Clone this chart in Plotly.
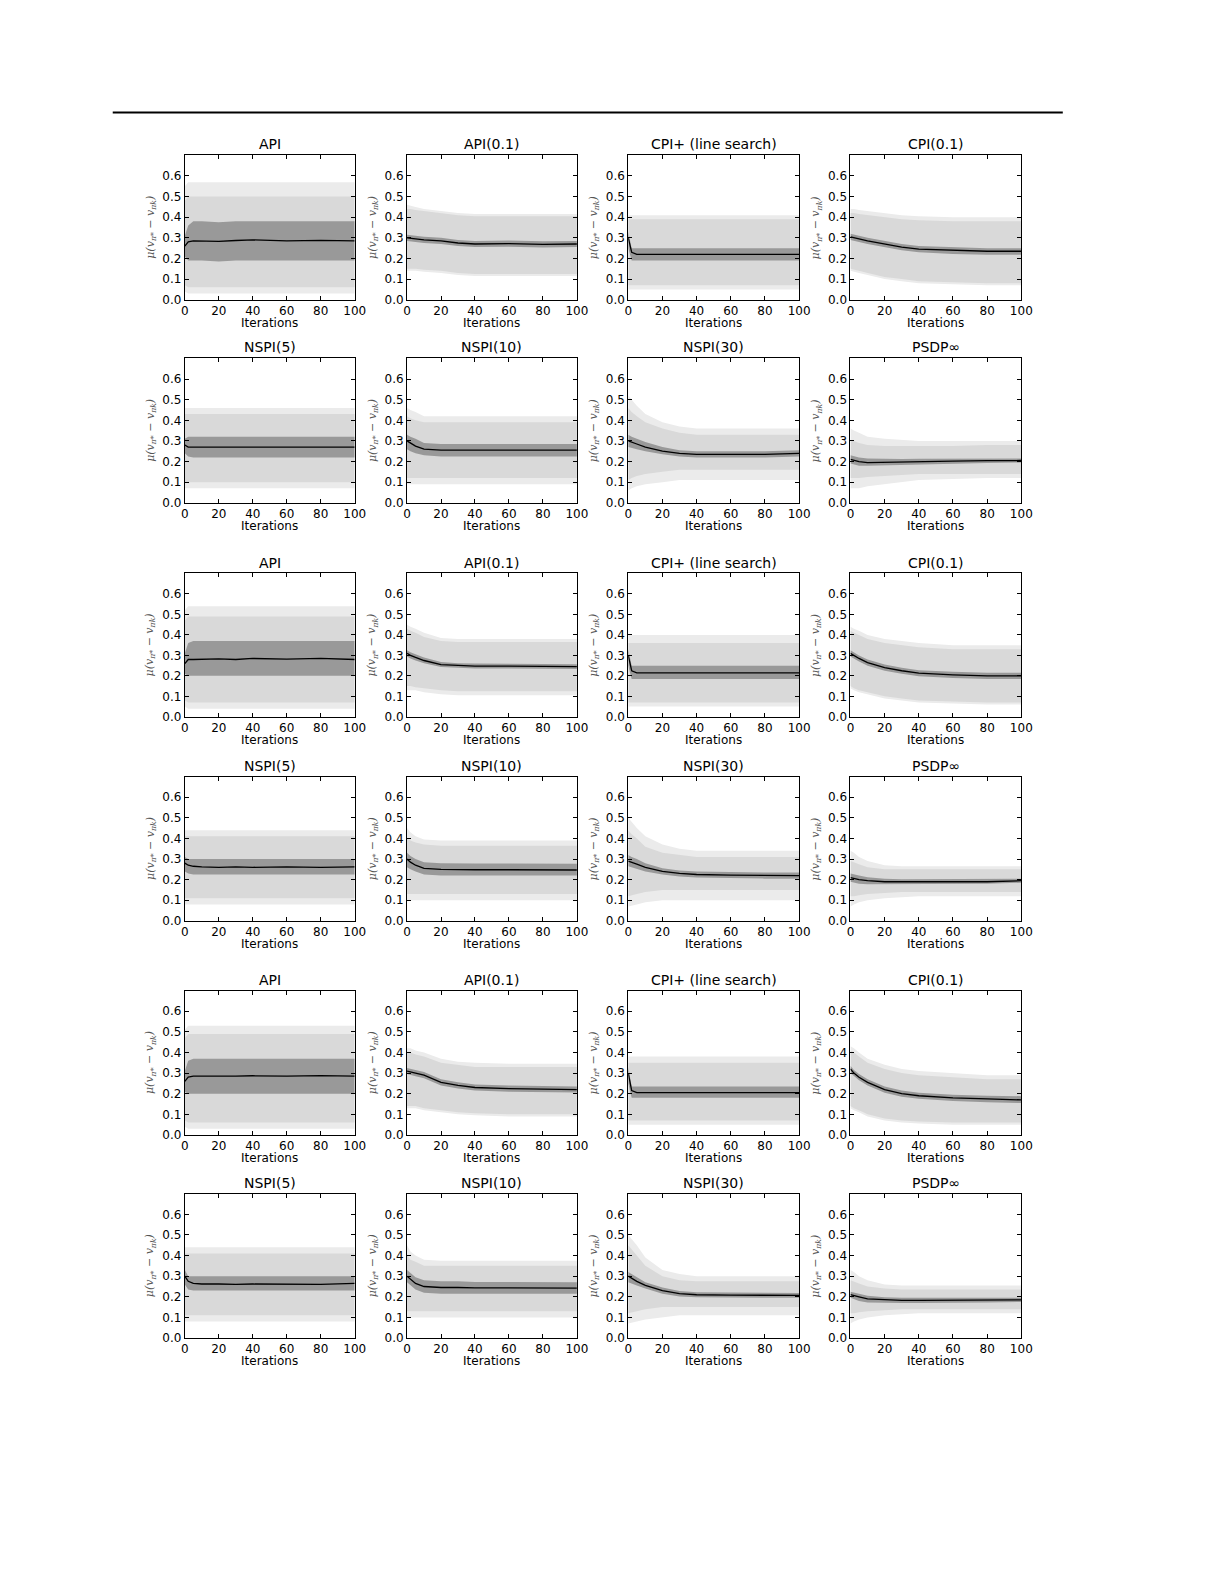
import plotly.graph_objects as go

# iteration knots
iters = [0, 2, 5, 10, 20, 30, 40, 60, 80, 100]

titles = ["API", "API(0.1)", "CPI+ (line search)", "CPI(0.1)",
          "NSPI(5)", "NSPI(10)", "NSPI(30)", "PSDP\u221e"]

# each panel: mean, inner band, middle band, outer band (lo/hi)
blk1 = [
    dict(mean=[0.26, 0.28, 0.285, 0.285, 0.283, 0.287, 0.29, 0.285, 0.288, 0.285],
         in_lo=[0.21, 0.19, 0.19, 0.19, 0.185, 0.19, 0.19, 0.19, 0.19, 0.19],
         in_hi=[0.31, 0.36, 0.38, 0.38, 0.375, 0.38, 0.38, 0.38, 0.38, 0.38],
         mid_lo=[0.07, 0.06, 0.06, 0.06, 0.06, 0.06, 0.06, 0.06, 0.06, 0.06],
         mid_hi=[0.48, 0.50, 0.50, 0.50, 0.50, 0.50, 0.50, 0.50, 0.50, 0.50],
         out_lo=[0.04, 0.03, 0.03, 0.03, 0.03, 0.03, 0.03, 0.03, 0.03, 0.03],
         out_hi=[0.55, 0.57, 0.57, 0.57, 0.57, 0.57, 0.57, 0.57, 0.57, 0.57]),
    dict(mean=[0.30, 0.298, 0.295, 0.29, 0.285, 0.275, 0.27, 0.272, 0.268, 0.27],
         in_lo=[0.285, 0.283, 0.28, 0.275, 0.27, 0.26, 0.255, 0.257, 0.253, 0.255],
         in_hi=[0.315, 0.313, 0.31, 0.305, 0.30, 0.29, 0.285, 0.287, 0.283, 0.285],
         mid_lo=[0.15, 0.15, 0.15, 0.145, 0.14, 0.13, 0.125, 0.125, 0.125, 0.125],
         mid_hi=[0.44, 0.44, 0.435, 0.43, 0.42, 0.41, 0.405, 0.405, 0.405, 0.405],
         out_lo=[0.14, 0.14, 0.14, 0.135, 0.13, 0.12, 0.115, 0.115, 0.115, 0.115],
         out_hi=[0.46, 0.455, 0.45, 0.44, 0.43, 0.42, 0.415, 0.415, 0.415, 0.415]),
    dict(mean=[0.30, 0.23, 0.22, 0.22, 0.22, 0.22, 0.22, 0.22, 0.22, 0.22],
         in_lo=[0.25, 0.19, 0.19, 0.19, 0.19, 0.19, 0.19, 0.19, 0.19, 0.19],
         in_hi=[0.33, 0.25, 0.25, 0.25, 0.25, 0.25, 0.25, 0.25, 0.25, 0.25],
         mid_lo=[0.07, 0.07, 0.07, 0.07, 0.07, 0.07, 0.07, 0.07, 0.07, 0.07],
         mid_hi=[0.39, 0.39, 0.39, 0.39, 0.39, 0.39, 0.39, 0.39, 0.39, 0.39],
         out_lo=[0.05, 0.05, 0.05, 0.05, 0.05, 0.05, 0.05, 0.05, 0.05, 0.05],
         out_hi=[0.41, 0.41, 0.41, 0.41, 0.41, 0.41, 0.41, 0.41, 0.41, 0.41]),
    dict(mean=[0.305, 0.30, 0.295, 0.285, 0.27, 0.255, 0.245, 0.24, 0.235, 0.235],
         in_lo=[0.29, 0.285, 0.28, 0.27, 0.255, 0.24, 0.23, 0.222, 0.218, 0.218],
         in_hi=[0.32, 0.315, 0.31, 0.30, 0.285, 0.27, 0.26, 0.255, 0.25, 0.25],
         mid_lo=[0.15, 0.145, 0.14, 0.13, 0.11, 0.10, 0.09, 0.085, 0.08, 0.08],
         mid_hi=[0.42, 0.42, 0.415, 0.41, 0.40, 0.39, 0.385, 0.38, 0.38, 0.38],
         out_lo=[0.14, 0.135, 0.13, 0.12, 0.10, 0.09, 0.08, 0.075, 0.07, 0.07],
         out_hi=[0.44, 0.44, 0.435, 0.43, 0.42, 0.41, 0.405, 0.40, 0.40, 0.40]),
    dict(mean=[0.28, 0.27, 0.27, 0.27, 0.27, 0.268, 0.27, 0.27, 0.268, 0.27],
         in_lo=[0.24, 0.225, 0.22, 0.22, 0.22, 0.22, 0.22, 0.22, 0.22, 0.22],
         in_hi=[0.31, 0.32, 0.32, 0.32, 0.32, 0.32, 0.32, 0.32, 0.32, 0.32],
         mid_lo=[0.10, 0.10, 0.10, 0.10, 0.10, 0.10, 0.10, 0.10, 0.10, 0.10],
         mid_hi=[0.43, 0.43, 0.43, 0.43, 0.43, 0.43, 0.43, 0.43, 0.43, 0.43],
         out_lo=[0.07, 0.07, 0.07, 0.07, 0.07, 0.07, 0.07, 0.07, 0.07, 0.07],
         out_hi=[0.46, 0.46, 0.46, 0.46, 0.46, 0.46, 0.46, 0.46, 0.46, 0.46]),
    dict(mean=[0.30, 0.29, 0.275, 0.26, 0.255, 0.255, 0.255, 0.255, 0.255, 0.255],
         in_lo=[0.26, 0.25, 0.24, 0.23, 0.225, 0.225, 0.225, 0.225, 0.225, 0.225],
         in_hi=[0.33, 0.32, 0.31, 0.29, 0.285, 0.285, 0.285, 0.285, 0.285, 0.285],
         mid_lo=[0.12, 0.12, 0.12, 0.12, 0.12, 0.12, 0.12, 0.12, 0.12, 0.12],
         mid_hi=[0.42, 0.41, 0.40, 0.39, 0.39, 0.39, 0.39, 0.39, 0.39, 0.39],
         out_lo=[0.09, 0.09, 0.09, 0.09, 0.09, 0.09, 0.09, 0.09, 0.09, 0.09],
         out_hi=[0.46, 0.45, 0.44, 0.42, 0.42, 0.42, 0.42, 0.42, 0.42, 0.42]),
    dict(mean=[0.30, 0.295, 0.285, 0.27, 0.25, 0.24, 0.235, 0.235, 0.235, 0.24],
         in_lo=[0.27, 0.265, 0.26, 0.25, 0.235, 0.225, 0.22, 0.22, 0.22, 0.225],
         in_hi=[0.33, 0.32, 0.31, 0.295, 0.27, 0.255, 0.25, 0.25, 0.25, 0.255],
         mid_lo=[0.11, 0.12, 0.13, 0.14, 0.15, 0.16, 0.16, 0.16, 0.16, 0.16],
         mid_hi=[0.46, 0.44, 0.42, 0.39, 0.36, 0.34, 0.33, 0.33, 0.33, 0.33],
         out_lo=[0.06, 0.07, 0.08, 0.09, 0.10, 0.11, 0.11, 0.11, 0.11, 0.11],
         out_hi=[0.52, 0.50, 0.47, 0.43, 0.39, 0.37, 0.36, 0.36, 0.36, 0.36]),
    dict(mean=[0.21, 0.205, 0.20, 0.195, 0.197, 0.198, 0.20, 0.202, 0.204, 0.205],
         in_lo=[0.19, 0.185, 0.18, 0.18, 0.182, 0.185, 0.188, 0.19, 0.193, 0.195],
         in_hi=[0.23, 0.225, 0.22, 0.215, 0.213, 0.212, 0.213, 0.214, 0.215, 0.215],
         mid_lo=[0.12, 0.12, 0.12, 0.125, 0.13, 0.135, 0.14, 0.14, 0.14, 0.14],
         mid_hi=[0.30, 0.30, 0.29, 0.28, 0.275, 0.275, 0.275, 0.275, 0.28, 0.28],
         out_lo=[0.07, 0.07, 0.07, 0.08, 0.09, 0.10, 0.11, 0.115, 0.12, 0.12],
         out_hi=[0.36, 0.35, 0.34, 0.32, 0.31, 0.305, 0.30, 0.30, 0.30, 0.30]),
]

blk2 = [
    dict(mean=[0.26, 0.28, 0.28, 0.282, 0.283, 0.28, 0.285, 0.282, 0.285, 0.28],
         in_lo=[0.21, 0.20, 0.20, 0.20, 0.20, 0.20, 0.20, 0.20, 0.20, 0.20],
         in_hi=[0.31, 0.36, 0.37, 0.37, 0.37, 0.37, 0.37, 0.37, 0.37, 0.37],
         mid_lo=[0.08, 0.07, 0.07, 0.07, 0.07, 0.07, 0.07, 0.07, 0.07, 0.07],
         mid_hi=[0.47, 0.49, 0.49, 0.49, 0.49, 0.49, 0.49, 0.49, 0.49, 0.49],
         out_lo=[0.05, 0.04, 0.04, 0.04, 0.04, 0.04, 0.04, 0.04, 0.04, 0.04],
         out_hi=[0.52, 0.54, 0.54, 0.54, 0.54, 0.54, 0.54, 0.54, 0.54, 0.54]),
    dict(mean=[0.31, 0.30, 0.29, 0.275, 0.255, 0.25, 0.248, 0.248, 0.245, 0.245],
         in_lo=[0.295, 0.285, 0.275, 0.262, 0.243, 0.238, 0.236, 0.236, 0.233, 0.233],
         in_hi=[0.325, 0.315, 0.305, 0.29, 0.268, 0.262, 0.26, 0.26, 0.257, 0.257],
         mid_lo=[0.15, 0.15, 0.145, 0.14, 0.13, 0.125, 0.125, 0.125, 0.125, 0.125],
         mid_hi=[0.43, 0.42, 0.41, 0.39, 0.37, 0.365, 0.365, 0.365, 0.365, 0.365],
         out_lo=[0.13, 0.13, 0.13, 0.12, 0.11, 0.105, 0.105, 0.105, 0.105, 0.105],
         out_hi=[0.45, 0.44, 0.43, 0.41, 0.385, 0.38, 0.38, 0.38, 0.38, 0.38]),
    dict(mean=[0.30, 0.225, 0.215, 0.215, 0.215, 0.215, 0.215, 0.215, 0.215, 0.215],
         in_lo=[0.25, 0.185, 0.185, 0.185, 0.185, 0.185, 0.185, 0.185, 0.185, 0.185],
         in_hi=[0.33, 0.25, 0.25, 0.25, 0.25, 0.25, 0.25, 0.25, 0.25, 0.25],
         mid_lo=[0.07, 0.07, 0.07, 0.07, 0.07, 0.07, 0.07, 0.07, 0.07, 0.07],
         mid_hi=[0.36, 0.36, 0.36, 0.36, 0.36, 0.36, 0.36, 0.36, 0.36, 0.36],
         out_lo=[0.05, 0.05, 0.05, 0.05, 0.05, 0.05, 0.05, 0.05, 0.05, 0.05],
         out_hi=[0.40, 0.40, 0.40, 0.40, 0.40, 0.40, 0.40, 0.40, 0.40, 0.40]),
    dict(mean=[0.31, 0.30, 0.285, 0.265, 0.24, 0.225, 0.213, 0.205, 0.20, 0.20],
         in_lo=[0.295, 0.285, 0.27, 0.25, 0.225, 0.21, 0.198, 0.19, 0.185, 0.185],
         in_hi=[0.325, 0.315, 0.30, 0.28, 0.255, 0.24, 0.228, 0.22, 0.215, 0.215],
         mid_lo=[0.15, 0.14, 0.13, 0.12, 0.10, 0.09, 0.08, 0.075, 0.07, 0.07],
         mid_hi=[0.42, 0.41, 0.40, 0.38, 0.36, 0.35, 0.34, 0.33, 0.33, 0.33],
         out_lo=[0.14, 0.13, 0.12, 0.11, 0.09, 0.08, 0.07, 0.065, 0.06, 0.06],
         out_hi=[0.44, 0.43, 0.42, 0.40, 0.38, 0.37, 0.36, 0.35, 0.35, 0.35]),
    dict(mean=[0.28, 0.27, 0.265, 0.262, 0.26, 0.262, 0.26, 0.262, 0.26, 0.262],
         in_lo=[0.24, 0.23, 0.225, 0.225, 0.225, 0.225, 0.225, 0.225, 0.225, 0.225],
         in_hi=[0.31, 0.30, 0.30, 0.30, 0.30, 0.30, 0.30, 0.30, 0.30, 0.30],
         mid_lo=[0.11, 0.11, 0.11, 0.11, 0.11, 0.11, 0.11, 0.11, 0.11, 0.11],
         mid_hi=[0.41, 0.41, 0.41, 0.41, 0.41, 0.41, 0.41, 0.41, 0.41, 0.41],
         out_lo=[0.08, 0.08, 0.08, 0.08, 0.08, 0.08, 0.08, 0.08, 0.08, 0.08],
         out_hi=[0.44, 0.44, 0.44, 0.44, 0.44, 0.44, 0.44, 0.44, 0.44, 0.44]),
    dict(mean=[0.30, 0.285, 0.27, 0.255, 0.25, 0.248, 0.248, 0.248, 0.247, 0.247],
         in_lo=[0.26, 0.25, 0.24, 0.225, 0.22, 0.22, 0.22, 0.22, 0.22, 0.22],
         in_hi=[0.33, 0.315, 0.30, 0.285, 0.28, 0.278, 0.278, 0.278, 0.277, 0.277],
         mid_lo=[0.13, 0.13, 0.13, 0.13, 0.13, 0.13, 0.13, 0.13, 0.13, 0.13],
         mid_hi=[0.40, 0.39, 0.38, 0.37, 0.365, 0.365, 0.365, 0.365, 0.365, 0.365],
         out_lo=[0.10, 0.10, 0.10, 0.10, 0.10, 0.10, 0.10, 0.10, 0.10, 0.10],
         out_hi=[0.45, 0.43, 0.41, 0.395, 0.39, 0.39, 0.39, 0.39, 0.39, 0.39]),
    dict(mean=[0.29, 0.285, 0.275, 0.26, 0.24, 0.23, 0.225, 0.222, 0.22, 0.22],
         in_lo=[0.265, 0.26, 0.255, 0.24, 0.225, 0.215, 0.21, 0.207, 0.205, 0.205],
         in_hi=[0.32, 0.31, 0.30, 0.28, 0.255, 0.245, 0.24, 0.237, 0.235, 0.235],
         mid_lo=[0.12, 0.125, 0.13, 0.14, 0.15, 0.15, 0.15, 0.15, 0.15, 0.15],
         mid_hi=[0.44, 0.42, 0.40, 0.36, 0.33, 0.32, 0.31, 0.31, 0.31, 0.31],
         out_lo=[0.07, 0.075, 0.08, 0.09, 0.10, 0.10, 0.10, 0.10, 0.10, 0.10],
         out_hi=[0.50, 0.48, 0.45, 0.41, 0.37, 0.35, 0.34, 0.34, 0.34, 0.34]),
    dict(mean=[0.21, 0.205, 0.20, 0.195, 0.19, 0.19, 0.19, 0.19, 0.19, 0.195],
         in_lo=[0.19, 0.185, 0.18, 0.178, 0.178, 0.18, 0.18, 0.18, 0.18, 0.185],
         in_hi=[0.23, 0.225, 0.22, 0.212, 0.205, 0.202, 0.202, 0.202, 0.202, 0.205],
         mid_lo=[0.12, 0.12, 0.125, 0.13, 0.135, 0.14, 0.14, 0.14, 0.14, 0.14],
         mid_hi=[0.29, 0.285, 0.275, 0.26, 0.25, 0.25, 0.25, 0.25, 0.25, 0.25],
         out_lo=[0.07, 0.08, 0.09, 0.10, 0.11, 0.115, 0.12, 0.12, 0.12, 0.12],
         out_hi=[0.34, 0.33, 0.31, 0.29, 0.27, 0.265, 0.265, 0.265, 0.265, 0.265]),
]

blk3 = [
    dict(mean=[0.26, 0.28, 0.285, 0.285, 0.283, 0.285, 0.287, 0.285, 0.288, 0.285],
         in_lo=[0.21, 0.20, 0.20, 0.20, 0.20, 0.20, 0.20, 0.20, 0.20, 0.20],
         in_hi=[0.31, 0.36, 0.37, 0.37, 0.37, 0.37, 0.37, 0.37, 0.37, 0.37],
         mid_lo=[0.07, 0.06, 0.06, 0.06, 0.06, 0.06, 0.06, 0.06, 0.06, 0.06],
         mid_hi=[0.47, 0.49, 0.49, 0.49, 0.49, 0.49, 0.49, 0.49, 0.49, 0.49],
         out_lo=[0.04, 0.03, 0.03, 0.03, 0.03, 0.03, 0.03, 0.03, 0.03, 0.03],
         out_hi=[0.51, 0.53, 0.53, 0.53, 0.53, 0.53, 0.53, 0.53, 0.53, 0.53]),
    dict(mean=[0.31, 0.305, 0.30, 0.29, 0.255, 0.24, 0.23, 0.225, 0.222, 0.22],
         in_lo=[0.295, 0.29, 0.285, 0.275, 0.24, 0.225, 0.215, 0.21, 0.208, 0.206],
         in_hi=[0.325, 0.32, 0.315, 0.305, 0.27, 0.255, 0.245, 0.24, 0.237, 0.235],
         mid_lo=[0.14, 0.14, 0.14, 0.13, 0.12, 0.11, 0.105, 0.10, 0.10, 0.10],
         mid_hi=[0.40, 0.40, 0.39, 0.38, 0.35, 0.34, 0.33, 0.33, 0.33, 0.33],
         out_lo=[0.13, 0.13, 0.13, 0.12, 0.11, 0.10, 0.095, 0.09, 0.09, 0.09],
         out_hi=[0.42, 0.42, 0.41, 0.40, 0.37, 0.355, 0.35, 0.345, 0.345, 0.345]),
    dict(mean=[0.30, 0.215, 0.205, 0.205, 0.205, 0.205, 0.205, 0.205, 0.205, 0.205],
         in_lo=[0.25, 0.18, 0.18, 0.18, 0.18, 0.18, 0.18, 0.18, 0.18, 0.18],
         in_hi=[0.33, 0.235, 0.235, 0.235, 0.235, 0.235, 0.235, 0.235, 0.235, 0.235],
         mid_lo=[0.07, 0.07, 0.07, 0.07, 0.07, 0.07, 0.07, 0.07, 0.07, 0.07],
         mid_hi=[0.35, 0.35, 0.35, 0.35, 0.35, 0.35, 0.35, 0.35, 0.35, 0.35],
         out_lo=[0.05, 0.05, 0.05, 0.05, 0.05, 0.05, 0.05, 0.05, 0.05, 0.05],
         out_hi=[0.38, 0.38, 0.38, 0.38, 0.38, 0.38, 0.38, 0.38, 0.38, 0.38]),
    dict(mean=[0.32, 0.30, 0.28, 0.255, 0.22, 0.20, 0.19, 0.18, 0.175, 0.17],
         in_lo=[0.30, 0.285, 0.265, 0.24, 0.205, 0.185, 0.175, 0.165, 0.158, 0.155],
         in_hi=[0.335, 0.315, 0.295, 0.27, 0.235, 0.215, 0.205, 0.195, 0.19, 0.188],
         mid_lo=[0.14, 0.13, 0.12, 0.10, 0.08, 0.07, 0.065, 0.06, 0.06, 0.06],
         mid_hi=[0.41, 0.40, 0.38, 0.35, 0.32, 0.30, 0.29, 0.28, 0.27, 0.27],
         out_lo=[0.13, 0.12, 0.11, 0.09, 0.07, 0.06, 0.055, 0.05, 0.05, 0.05],
         out_hi=[0.43, 0.42, 0.40, 0.37, 0.34, 0.32, 0.31, 0.30, 0.29, 0.29]),
    dict(mean=[0.30, 0.275, 0.265, 0.262, 0.262, 0.26, 0.262, 0.262, 0.26, 0.265],
         in_lo=[0.26, 0.235, 0.23, 0.23, 0.23, 0.23, 0.23, 0.23, 0.23, 0.23],
         in_hi=[0.33, 0.30, 0.30, 0.30, 0.30, 0.30, 0.30, 0.30, 0.30, 0.30],
         mid_lo=[0.11, 0.11, 0.11, 0.11, 0.11, 0.11, 0.11, 0.11, 0.11, 0.11],
         mid_hi=[0.41, 0.41, 0.41, 0.41, 0.41, 0.41, 0.41, 0.41, 0.41, 0.41],
         out_lo=[0.08, 0.08, 0.08, 0.08, 0.08, 0.08, 0.08, 0.08, 0.08, 0.08],
         out_hi=[0.44, 0.44, 0.44, 0.44, 0.44, 0.44, 0.44, 0.44, 0.44, 0.44]),
    dict(mean=[0.30, 0.285, 0.265, 0.25, 0.245, 0.245, 0.243, 0.243, 0.242, 0.242],
         in_lo=[0.27, 0.255, 0.235, 0.22, 0.215, 0.215, 0.215, 0.215, 0.215, 0.215],
         in_hi=[0.33, 0.315, 0.295, 0.28, 0.275, 0.275, 0.272, 0.272, 0.27, 0.27],
         mid_lo=[0.13, 0.13, 0.13, 0.13, 0.13, 0.13, 0.13, 0.13, 0.13, 0.13],
         mid_hi=[0.40, 0.38, 0.37, 0.35, 0.35, 0.35, 0.35, 0.35, 0.35, 0.35],
         out_lo=[0.10, 0.10, 0.10, 0.10, 0.10, 0.10, 0.10, 0.10, 0.10, 0.10],
         out_hi=[0.45, 0.42, 0.40, 0.38, 0.375, 0.375, 0.375, 0.375, 0.375, 0.375]),
    dict(mean=[0.30, 0.29, 0.275, 0.255, 0.23, 0.215, 0.21, 0.208, 0.207, 0.207],
         in_lo=[0.27, 0.265, 0.255, 0.24, 0.215, 0.202, 0.198, 0.196, 0.195, 0.195],
         in_hi=[0.32, 0.31, 0.295, 0.27, 0.245, 0.228, 0.222, 0.22, 0.219, 0.219],
         mid_lo=[0.12, 0.125, 0.13, 0.14, 0.15, 0.15, 0.15, 0.15, 0.15, 0.15],
         mid_hi=[0.45, 0.43, 0.40, 0.35, 0.30, 0.28, 0.275, 0.275, 0.275, 0.275],
         out_lo=[0.07, 0.075, 0.08, 0.09, 0.10, 0.11, 0.11, 0.11, 0.11, 0.11],
         out_hi=[0.50, 0.48, 0.45, 0.39, 0.33, 0.31, 0.30, 0.30, 0.30, 0.30]),
    dict(mean=[0.21, 0.205, 0.20, 0.19, 0.185, 0.183, 0.183, 0.183, 0.183, 0.185],
         in_lo=[0.195, 0.19, 0.18, 0.172, 0.17, 0.17, 0.17, 0.17, 0.172, 0.175],
         in_hi=[0.225, 0.22, 0.215, 0.205, 0.198, 0.195, 0.195, 0.195, 0.195, 0.195],
         mid_lo=[0.12, 0.12, 0.125, 0.13, 0.135, 0.14, 0.14, 0.14, 0.14, 0.14],
         mid_hi=[0.28, 0.275, 0.265, 0.25, 0.24, 0.235, 0.235, 0.235, 0.235, 0.235],
         out_lo=[0.07, 0.08, 0.09, 0.10, 0.11, 0.115, 0.12, 0.12, 0.12, 0.12],
         out_hi=[0.33, 0.32, 0.30, 0.28, 0.26, 0.255, 0.255, 0.255, 0.255, 0.255]),
]

# page body margin (8px) shifts the figure; size the figure to fit the window
OFF = 8
W, H = 1225 - 2 * OFF, 1585 - 2 * OFF
col_px = [(183, 355), (408, 580), (632, 805), (857, 1030)]
row_px = [(156, 301), (360, 505), (576, 720), (780, 925), (995, 1140), (1199, 1344)]


def px(v):
    return (v - OFF) / W


def py(v):
    return 1 - (v - OFF) / H


fig = go.Figure()
ann = []
lay = {}
panels = blk1 + blk2 + blk3
for i, p in enumerate(panels):
    r, c = divmod(i, 4)
    n = i + 1
    xs = "" if n == 1 else str(n)
    xa, ya = "x" + xs, "y" + xs
    for lo, hi, col in [("out_lo", "out_hi", "#ebebeb"),
                        ("mid_lo", "mid_hi", "#d9d9d9"),
                        ("in_lo", "in_hi", "#999999")]:
        fig.add_trace(go.Scatter(x=iters, y=p[lo], xaxis=xa, yaxis=ya, mode="lines",
                                 line=dict(width=0, color=col), showlegend=False, hoverinfo="skip"))
        fig.add_trace(go.Scatter(x=iters, y=p[hi], xaxis=xa, yaxis=ya, mode="lines",
                                 line=dict(width=0, color=col), fill="tonexty",
                                 fillcolor=col, showlegend=False, hoverinfo="skip"))
    fig.add_trace(go.Scatter(x=iters, y=p["mean"], xaxis=xa, yaxis=ya, mode="lines",
                             line=dict(width=1.3, color="black"), showlegend=False))
    x0, x1 = col_px[c]
    y0, y1 = row_px[r]
    common = dict(showline=True, linecolor="black", linewidth=1, mirror="ticks",
                  ticks="inside", ticklen=4, tickcolor="black", showgrid=False,
                  zeroline=False, tickfont=dict(size=12, color="black"))
    lay["xaxis" + xs] = dict(domain=[px(x0), px(x1)], anchor=ya, range=[0, 100],
                             tickvals=[0, 20, 40, 60, 80, 100], **common)
    lay["yaxis" + xs] = dict(domain=[py(y1), py(y0)], anchor=xa, range=[0, 0.7],
                             tickvals=[0, 0.1, 0.2, 0.3, 0.4, 0.5, 0.6],
                             ticktext=["0.0", "0.1", "0.2", "0.3", "0.4", "0.5", "0.6"], **common)
    base = dict(xref="paper", yref="paper", showarrow=False,
                xanchor="center", yanchor="middle")
    ann.append(dict(text=titles[i % 8], x=px((x0 + x1) / 2), y=py(y0 - 11),
                    font=dict(size=14, color="black"), **base))
    ann.append(dict(text="Iterations", x=px((x0 + x1) / 2), y=py(y1 + 23),
                    font=dict(size=12, color="black"), **base))
    ann.append(dict(text="<i>\u03bc(v<sub>\u03c0*</sub> \u2212 v<sub>\u03c0k</sub>)</i>",
                    x=px(x0 - 35), y=py((y0 + y1) / 2), textangle=-90,
                    font=dict(size=11, color="#555555", family="DejaVu Serif"), **base))

fig.update_layout(width=W, height=H, margin=dict(l=0, r=0, t=0, b=0),
                  plot_bgcolor="white", paper_bgcolor="white",
                  font=dict(family="DejaVu Sans"), annotations=ann,
                  shapes=[dict(type="line", xref="paper", yref="paper",
                               x0=px(110), x1=px(1072), y0=py(113), y1=py(113),
                               line=dict(color="black", width=2))],
                  **lay)
fig.write_html("out.html")
